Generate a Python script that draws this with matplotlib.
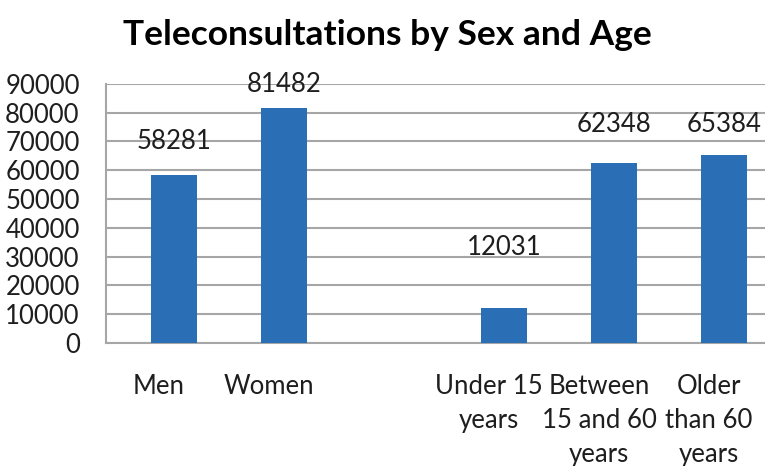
import matplotlib
matplotlib.use("Agg")
from matplotlib import pyplot as plt
from matplotlib.transforms import ScaledTranslation

# Teleconsultation counts, by sex then by age group (blank slot between groups)
categories = ["Men", "Women", "", "Under 15\nyears", "Between\n15 and 60\nyears", "Older\nthan 60\nyears"]
counts = [58281, 81482, None, 12031, 62348, 65384]
yticks = [0, 10000, 20000, 30000, 40000, 50000, 60000, 70000, 80000, 90000]
# vertical lift of each value label above its bar, in points
label_lift = [15, 8, 35, 19, 13]

plt.rcParams['font.family'] = ['Lato', 'DejaVu Sans']

fig = plt.figure(figsize=(7.65, 4.66), dpi=100)
ax = fig.add_axes([0.1386, 0.264, 0.8614, 0.556])

xs = [i for i, c in enumerate(counts) if c is not None]
vals = [c for c in counts if c is not None]
bars = ax.bar(xs, vals, width=0.42, color="#2A6FB5", zorder=3)

for b, v, lift in zip(bars, vals, label_lift):
	ax.annotate(str(v), (b.get_x() + b.get_width() / 2, v), xytext=(0, lift),
				textcoords="offset points", ha="center", va="bottom",
				fontsize=18.5, color="#1E1E1E")

ax.set_ylim(0, 90000)
ax.set_xlim(-0.618, 5.373)
ax.set_yticks(yticks)
ax.set_yticklabels([str(t) for t in yticks])
ax.set_xticks(range(len(categories)))
ax.set_xticklabels(categories, multialignment="center", linespacing=1.45)

ax.yaxis.grid(True, color="#A6A6A6", linewidth=1.5, zorder=0)
for side in ["top", "right"]:
	ax.spines[side].set_visible(False)
for side in ["left", "bottom"]:
	ax.spines[side].set_color("#A6A6A6")
	ax.spines[side].set_linewidth(1.5)

ax.tick_params(axis="both", length=0, labelsize=18.5, labelcolor="#1E1E1E")
ax.tick_params(axis="y", pad=19)
ax.tick_params(axis="x", pad=22)

# category labels sit a little left of the bar centres
shift = ScaledTranslation(-15 / 100, 0, fig.dpi_scale_trans)
for lbl in ax.get_xticklabels():
	lbl.set_transform(lbl.get_transform() + shift)

fig.text(0.507, 0.925, "Teleconsultations by Sex and Age", ha="center", va="center",
		 fontsize=25.5, fontweight="bold", color="black")

plt.savefig("out.png", dpi=100)
